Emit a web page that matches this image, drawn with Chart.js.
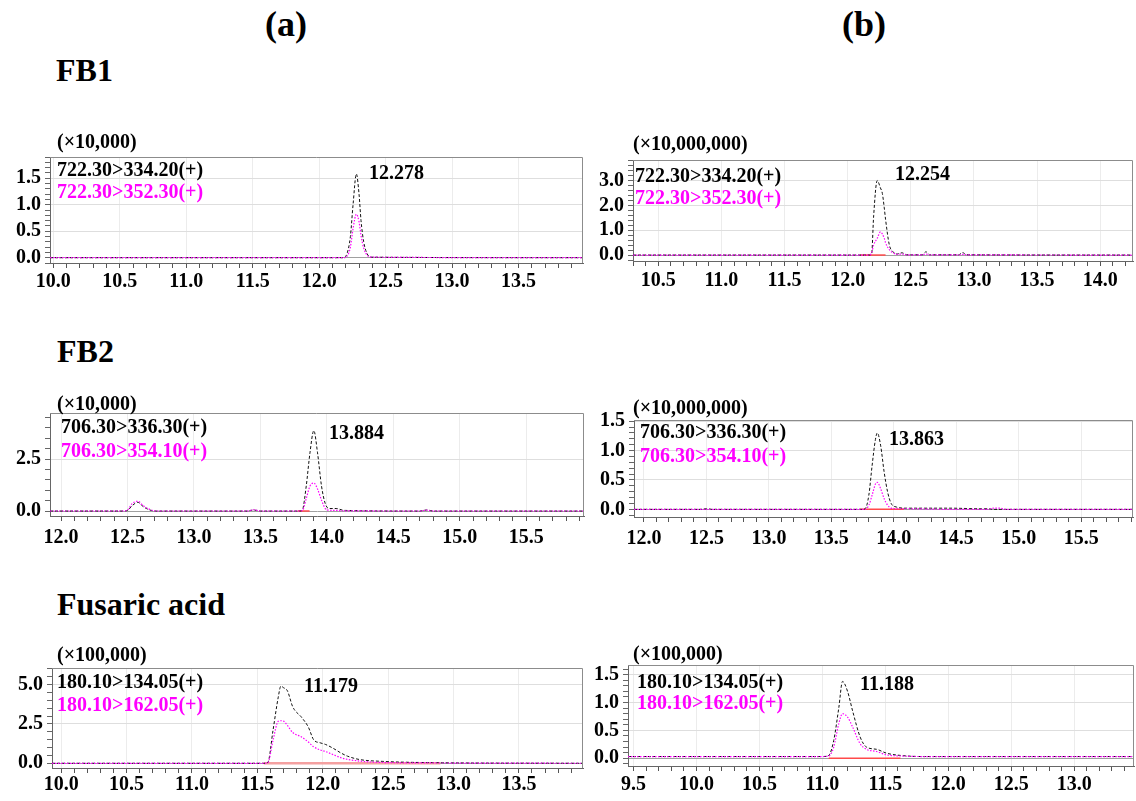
<!DOCTYPE html>
<html><head><meta charset="utf-8">
<script src="https://cdn.jsdelivr.net/npm/chart.js@4.4.1/dist/chart.umd.min.js"></script>
<style>
html,body{margin:0;padding:0;background:#fff;}
body{width:1136px;height:801px;position:relative;overflow:hidden;font-family:"Liberation Serif","Times New Roman",serif;}
.t{position:absolute;white-space:nowrap;font-weight:bold;line-height:1;z-index:5;}
.p{position:absolute;}
</style></head><body>
<script>
// ---------------- DATA ----------------
const xTicksA1 = [10.0,10.5,11.0,11.5,12.0,12.5,13.0,13.5];
const yTicksA1 = [0.0,0.5,1.0,1.5];
const timeA1 = [9.975,12.18,12.21,12.235,12.255,12.28,12.30,12.315,12.335,12.36,12.39,13.985];
const blackA1 = [0,0,0.08,0.4,1.0,1.58,1.2,0.7,0.3,0.08,0.01,0];
const magentaA1 = [0,0,0.03,0.2,0.55,0.82,0.68,0.42,0.18,0.05,0.01,0];

const xTicksB1 = [10.5,11.0,11.5,12.0,12.5,13.0,13.5,14.0];
const yTicksB1 = [0.0,1.0,2.0,3.0];
const timeB1 = [10.30,12.17,12.19,12.206,12.234,12.26,12.275,12.29,12.30,12.33,12.36,12.39,12.43,12.47,12.59,12.62,12.65,12.88,12.91,12.94,14.26];
const blackB1 = [0,0,0.05,1.58,3.0,2.7,2.48,1.9,1.45,0.41,0.13,0.04,0.09,0.01,0.01,0.13,0.01,0.01,0.1,0.01,0];
const magentaB1 = [0,0,0.1,0.41,0.67,0.93,0.85,0.67,0.5,0.22,0.09,0.03,0.04,0.01,0.01,0.04,0.01,0.01,0.03,0.01,0];
const integB1 = [12.10,12.30];

const xTicksA2 = [12.0,12.5,13.0,13.5,14.0,14.5,15.0,15.5];
const yTicksA2 = [0.0,2.5];
const timeA2 = [11.917,12.47,12.505,12.534,12.578,12.62,12.678,12.72,13.40,13.45,13.50,13.80,13.816,13.845,13.873,13.902,13.93,13.96,13.988,14.017,14.07,14.13,14.70,14.75,14.80,15.935];
const blackA2 = [0,0,0.05,0.25,0.42,0.2,0.03,0,0,0.05,0,0,0.05,1.2,2.8,3.87,2.8,1.2,0.36,0.12,0.12,0.03,0,0.05,0,0];
const magentaA2 = [0,0,0.08,0.35,0.47,0.25,0.05,0,0,0.06,0,0,0.02,0.6,1.2,1.35,1.06,0.52,0.12,0.04,0.03,0.01,0,0.04,0,0];
const integA2 = [13.78,13.87];

const xTicksB2 = [12.0,12.5,13.0,13.5,14.0,14.5,15.0,15.5];
const yTicksB2 = [0.0,0.5,1.0,1.5];
const timeB2 = [11.92,12.45,12.50,12.55,13.74,13.77,13.80,13.826,13.853,13.868,13.895,13.923,13.951,13.979,14.02,14.10,14.45,14.70,14.75,14.80,14.85,14.90,15.915];
const blackB2 = [0,0,0.01,0,0,0.01,0.24,0.74,1.19,1.30,1.08,0.63,0.29,0.10,0.04,0.02,0.02,0.01,0.01,0,0,0,0];
const magentaB2 = [0,0,0,0,0,0,0.07,0.24,0.43,0.46,0.35,0.18,0.07,0.02,0.01,0.01,0,0,0,0.02,0.02,0,0];
const integB2 = [13.73,14.08];

const xTicksA3 = [10.0,10.5,11.0,11.5,12.0,12.5,13.0,13.5];
const yTicksA3 = [0.0,2.5,5.0];
const timeA3 = [9.93,11.55,11.58,11.62,11.66,11.68,11.70,11.73,11.77,11.84,11.89,11.93,11.98,12.02,12.08,12.14,12.19,12.28,12.46,12.84,13.99];
const blackA3 = [0,0,0.05,2.1,4.2,4.9,4.8,4.6,3.6,2.9,2.3,1.5,1.3,1.2,0.95,0.65,0.45,0.24,0.12,0.04,0];
const magentaA3 = [0,0,0.03,1.46,2.67,2.7,2.68,2.4,1.96,1.66,1.35,1.05,0.85,0.75,0.55,0.35,0.25,0.14,0.05,0.02,0];
const integA3 = [11.55,12.90];

const xTicksB3 = [9.5,10.0,10.5,11.0,11.5,12.0,12.5,13.0];
const yTicksB3 = [0.0,0.5,1.0,1.5];
const timeB3 = [9.456,11.0,11.05,11.09,11.13,11.16,11.20,11.24,11.30,11.35,11.43,11.51,11.62,11.8,13.475];
const blackB3 = [0.03,0.03,0.05,0.32,0.9,1.38,1.2,0.85,0.38,0.2,0.16,0.09,0.05,0.03,0.03];
const magentaB3 = [0.03,0.03,0.04,0.2,0.62,0.8,0.74,0.56,0.26,0.16,0.12,0.06,0.04,0.03,0.03];
const integB3 = [11.05,11.62];

const columnTitles = ['(a)','(b)'];
const rowTitles = ['FB1','FB2','Fusaric acid'];
const multipliers = ['(×10,000)','(×10,000,000)','(×10,000)','(×10,000,000)','(×100,000)','(×100,000)'];
const legend1 = ['722.30>334.20(+)','722.30>334.20(+)','706.30>336.30(+)','706.30>336.30(+)','180.10>134.05(+)','180.10>134.05(+)'];
const legend2 = ['722.30>352.30(+)','722.30>352.30(+)','706.30>354.10(+)','706.30>354.10(+)','180.10>162.05(+)','180.10>162.05(+)'];
const peakLabels = ['12.278','12.254','13.884','13.863','11.179','11.188'];

// ---------------- LAYOUT ----------------
const FONT = '"Liberation Serif", "Times New Roman", serif';
const MAG = '#ff00ff';
function text(str, x, yc, size, color, center) {
  const d = document.createElement('div');
  d.className = 't';
  d.textContent = str;
  d.style.fontSize = size + 'px';
  d.style.color = color || '#000';
  d.style.left = x + 'px';
  d.style.top = (yc - size / 2) + 'px';
  if (center) d.style.transform = 'translateX(-50%)';
  document.body.appendChild(d);
}

const framePlugin = {
  id: 'frame',
  afterDraw(chart) {
    const {ctx, chartArea: a} = chart;
    ctx.save();
    ctx.strokeStyle = '#8c8c8c';
    ctx.lineWidth = 1;
    ctx.beginPath();
    ctx.moveTo(a.left, a.top + 0.5);
    ctx.lineTo(a.right - 0.5, a.top + 0.5);
    ctx.lineTo(a.right - 0.5, a.bottom);
    ctx.stroke();
    ctx.restore();
  }
};

const panels = [
  {box:[50,155,583,263], x:[9.975,13.985], y:[-0.1,1.9], yStep:0.1, xT:xTicksA1, yT:yTicksA1, t:timeA1, b:blackA1, m:magentaA1, integ:null, txt:{mul:[57,141], l1:[57,169], l2:[57,191], pk:[369,172]}, xPad:2},
  {box:[633,158,1133,261], x:[10.30,14.26], y:[-0.24,3.83], yStep:0.2, xT:xTicksB1, yT:yTicksB1, t:timeB1, b:blackB1, m:magentaB1, integ:integB1, txt:{mul:[633,143], l1:[635,175], l2:[635,197], pk:[895,173]}, xPad:3},
  {box:[50,411,584,516], x:[11.917,15.935], y:[-0.24,4.72], yStep:0.5, xT:xTicksA2, yT:yTicksA2, t:timeA2, b:blackA2, m:magentaA2, integ:integA2, txt:{mul:[57,403], l1:[61,426], l2:[61,450], pk:[329,432]}, xPad:5},
  {box:[634,418,1133,517], x:[11.92,15.915], y:[-0.13,1.52], yStep:0.1, xT:xTicksB2, yT:yTicksB2, t:timeB2, b:blackB2, m:magentaB2, integ:integB2, txt:{mul:[633,407], l1:[640,431], l2:[640,455], pk:[889,438]}, xPad:5},
  {box:[52,666,583,768], x:[9.93,13.99], y:[-0.3,6.05], yStep:0.5, xT:xTicksA3, yT:yTicksA3, t:timeA3, b:blackA3, m:magentaA3, integ:integA3, integColor:'#f4a0a0', integW:2.5, txt:{mul:[57,654], l1:[57,681], l2:[57,704], pk:[304,685]}, xPad:0},
  {box:[628,663,1134,766], x:[9.456,13.475], y:[-0.14,1.675], yStep:0.1, xT:xTicksB3, yT:yTicksB3, t:timeB3, b:blackB3, m:magentaB3, integ:integB3, txt:{mul:[633,653], l1:[637,681], l2:[637,702], pk:[860,683]}, xPad:2}
];

// titles
text(columnTitles[0], 286, 24, 36, '#000', true);
text(columnTitles[1], 864, 24, 36, '#000', true);
text(rowTitles[0], 56, 70, 32);
text(rowTitles[1], 57, 351, 32);
text(rowTitles[2], 57, 604, 32);

const isIn = (list, v) => list.some(m => Math.abs(m - v) < 1e-6);

panels.forEach((p, i) => {
  const PL = 56, PT = 14, PR = 26, PB = 36;
  const [L, T, R, B] = p.box;
  const w = R - L + PL + PR, h = B - T + PT + PB;
  const div = document.createElement('div');
  div.className = 'p';
  div.style.left = (L - PL) + 'px';
  div.style.top = (T - PT) + 'px';
  div.style.width = w + 'px';
  div.style.height = h + 'px';
  const cv = document.createElement('canvas');
  cv.width = w; cv.height = h;
  cv.style.width = w + 'px'; cv.style.height = h + 'px';
  div.appendChild(cv);
  document.body.appendChild(div);

  const datasets = [
    {data: p.t.map((x, k) => ({x, y: p.m[k]})), borderColor: MAG, borderWidth: 1.2, borderDash: [1.5, 1.5], pointRadius: 0, cubicInterpolationMode: 'monotone', fill: false},
    {data: p.t.map((x, k) => ({x, y: p.b[k]})), borderColor: '#111', borderWidth: 1, borderDash: [3, 2], pointRadius: 0, cubicInterpolationMode: 'monotone', fill: false}
  ];
  if (p.integ) {
    datasets.push({data: p.integ.map(x => ({x, y: 0})), borderColor: p.integColor || '#ff4a4a', borderWidth: p.integW || 1.5, pointRadius: 0, fill: false});
  }
  const tickFont = {family: FONT, size: 20, weight: 'bold'};
  new Chart(cv, {
    type: 'line',
    data: {datasets},
    plugins: [framePlugin],
    options: {
      responsive: false,
      animation: false,
      events: [],
      layout: {padding: {top: PT, right: PR, left: 0, bottom: 0}},
      plugins: {legend: {display: false}, tooltip: {enabled: false}},
      scales: {
        x: {
          type: 'linear', min: p.x[0], max: p.x[1],
          afterFit: s => { s.height = PB; },
          border: {color: '#666', width: 1},
          grid: {
            color: c => isIn(p.xT, c.tick.value) ? '#ececec' : 'rgba(0,0,0,0)',
            tickColor: '#555', tickLength: 5
          },
          ticks: {
            stepSize: 0.1, includeBounds: false, autoSkip: false, maxRotation: 0,
            padding: p.xPad, color: '#000', font: tickFont,
            callback: v => isIn(p.xT, v) ? Number(v).toFixed(1) : ''
          }
        },
        y: {
          type: 'linear', min: p.y[0], max: p.y[1],
          afterFit: s => { s.width = PL; },
          border: {color: '#666', width: 1},
          grid: {
            color: c => Math.abs(c.tick.value) < 1e-6 ? '#a0a0a0' : (isIn(p.yT, c.tick.value) ? '#dedede' : 'rgba(0,0,0,0)'),
            tickColor: '#666', tickLength: 5
          },
          ticks: {
            stepSize: p.yStep, includeBounds: false, autoSkip: false,
            padding: 4, color: '#000', font: tickFont,
            callback: v => isIn(p.yT, v) ? Number(v).toFixed(1) : ''
          }
        }
      }
    }
  });

  text(multipliers[i], p.txt.mul[0], p.txt.mul[1], 20);
  text(legend1[i], p.txt.l1[0], p.txt.l1[1], 20, '#000');
  text(legend2[i], p.txt.l2[0], p.txt.l2[1], 20, MAG);
  text(peakLabels[i], p.txt.pk[0], p.txt.pk[1], 20);
});
</script>
</body></html>
